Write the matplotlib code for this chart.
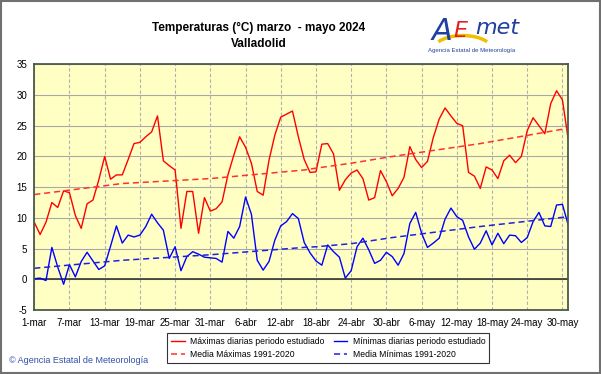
import matplotlib.pyplot as plt
from matplotlib.patches import Rectangle, Arc

# daily values, 1-mar .. 31-may 2024 (day index 0..91)
tmax = [9.3, 7.3, 9.3, 12.5, 11.7, 14.4, 14.1, 10.4, 8.3, 12.3,
        12.9, 16.2, 20.0, 16.3, 17.0, 17.0, 19.5, 22.1, 22.3, 23.2,
        24.0, 26.6, 19.3, 18.5, 17.8, 8.3, 14.3, 14.3, 7.5, 13.3,
        11.1, 11.5, 12.6, 17.0, 20.2, 23.2, 21.5, 18.9, 14.3, 13.7,
        19.4, 23.5, 26.4, 26.9, 27.4, 23.2, 19.5, 17.4, 17.5, 22.0,
        22.1, 20.4, 14.5, 16.2, 17.3, 17.8, 16.4, 12.9, 13.3, 17.7,
        15.9, 13.6, 14.8, 16.6, 21.6, 19.5, 18.2, 19.2, 23.1, 26.1,
        27.9, 26.6, 25.4, 25.0, 17.4, 16.8, 14.8, 18.3, 17.8, 16.4,
        19.3, 20.2, 19.0, 20.0, 24.2, 26.3, 25.0, 23.7, 28.6, 30.7,
        29.2, 22.7]
tmin = [0.1, 0.2, -0.2, 5.2, 2.0, -0.8, 2.4, 0.4, 2.9, 4.4,
        3.0, 1.6, 2.2, 5.4, 8.7, 5.9, 7.2, 6.9, 7.2, 8.6,
        10.6, 9.2, 8.0, 3.4, 5.3, 1.4, 3.7, 4.5, 4.1, 3.6,
        3.5, 3.4, 2.8, 7.8, 6.7, 8.6, 13.4, 10.6, 3.1, 1.5,
        2.9, 6.4, 8.7, 9.4, 10.7, 9.9, 6.0, 4.3, 3.0, 2.3,
        5.6, 4.5, 3.6, 0.2, 1.4, 5.3, 6.7, 4.8, 2.6, 3.1,
        4.4, 3.7, 2.3, 4.2, 9.1, 10.9, 7.5, 5.2, 5.9, 6.7,
        9.8, 11.6, 10.2, 9.6, 6.9, 4.9, 5.9, 7.9, 5.6, 7.5,
        5.8, 7.2, 7.1, 6.0, 6.8, 9.4, 10.9, 8.7, 8.6, 12.1,
        12.2, 8.8]

# 1991-2020 normals, read at a few days
norm_days = [0, 15, 30, 46, 48, 54, 61, 76, 91]
norm_max = [13.8, 15.6, 16.4, 17.8, 18.1, 18.9, 20.0, 22.1, 24.6]
norm_min = [1.8, 3.1, 4.0, 5.2, 5.3, 5.8, 6.8, 8.6, 10.2]

tick_pos = list(range(0, 91, 6))
tick_labels = ['1-mar', '7-mar', '13-mar', '19-mar', '25-mar', '31-mar',
               '6-abr', '12-abr', '18-abr', '24-abr', '30-abr', '6-may',
               '12-may', '18-may', '24-may', '30-may']

plt.rcParams['font.family'] = ['Liberation Sans', 'DejaVu Sans']
plt.rcParams['axes.unicode_minus'] = False

fig = plt.figure(figsize=(6.01, 3.74), dpi=100)
ax = fig.add_axes([0.057, 0.171, 0.8886, 0.657])
ax.set_facecolor('#ffffc4')

days = list(range(len(tmax)))
l1, = ax.plot(days, tmax, color='#ff0000', lw=1, label='Máximas diarias periodo estudiado')
l3, = ax.plot(days, tmin, color='#0000ff', lw=1, label='Mínimas diarias periodo estudiado')
l2, = ax.plot(norm_days, norm_max, color='#ff3030', lw=1.1, ls=(0, (4, 2.5)),
              label='Media Máximas 1991-2020')
l4, = ax.plot(norm_days, norm_min, color='#2020e0', lw=1.1, ls=(0, (4, 2.5)),
              label='Media Mínimas 1991-2020')

ax.set_xlim(0, 91)
ax.set_ylim(-5, 35)
ax.set_yticks(range(-5, 36, 5))
ax.set_xticks(tick_pos)
ax.set_xticklabels(tick_labels)
ax.tick_params(labelsize=7, length=0, pad=6)
ax.tick_params(axis='y', pad=5)
for y in range(-5, 36, 5):
    ax.axhline(y, color='#a8a8a8', lw=0.8, zorder=0)
for x in tick_pos:
    ax.axvline(x, color='#b0b0b0', lw=0.8, ls=(0, (3, 2)), zorder=0)
ax.axhline(0, color='#303830', lw=1.2, zorder=1)
for s in ax.spines.values():
    s.set_color('#4a5a4a')
    s.set_linewidth(1.3)

fig.text(0.43, 0.925, 'Temperaturas (°C) marzo  - mayo 2024', ha='center', va='center',
         fontsize=8.5, fontweight='bold')
fig.text(0.43, 0.882, 'Valladolid', ha='center', va='center', fontsize=8.5, fontweight='bold')

# logo
fig.text(0.735, 0.915, 'A', ha='center', va='center', fontsize=22, color='#2040a0',
         style='italic', family=['DejaVu Sans'])
fig.text(0.766, 0.918, 'E', ha='center', va='center', fontsize=16, color='#e02020',
         style='italic', family=['DejaVu Sans'])
fig.text(0.827, 0.925, 'met', ha='center', va='center', fontsize=16,
         color='#2040a0', style='italic', family=['DejaVu Sans'])
fig.add_artist(Arc((0.77, 0.865), 0.1, 0.08, theta1=30, theta2=150,
                   transform=fig.transFigure, color='#f0c000', lw=2.5))
fig.text(0.785, 0.866, 'Agencia Estatal de Meteorología', ha='center', va='center',
         fontsize=4.3, color='#2040a0')

fig.text(0.015, 0.035, '© Agencia Estatal de Meteorología', ha='left', va='center',
         fontsize=6.5, color='#3050a8')

leg = fig.legend(handles=[l1, l2, l3, l4], ncol=2, loc='lower left',
                 bbox_to_anchor=(0.271, 0.018, 0.55, 0.08), mode='expand',
                 fontsize=6.2, frameon=True, fancybox=False, handlelength=1.6,
                 handletextpad=0.6, borderpad=0.45, labelspacing=0.45, columnspacing=0.5)
leg.get_frame().set_edgecolor('black')
leg.get_frame().set_linewidth(0.8)

fig.add_artist(Rectangle((0.002, 0.003), 0.996, 0.994, transform=fig.transFigure,
                         fill=False, edgecolor='#707070', lw=1.5))

fig.savefig('out.png', dpi=100)
